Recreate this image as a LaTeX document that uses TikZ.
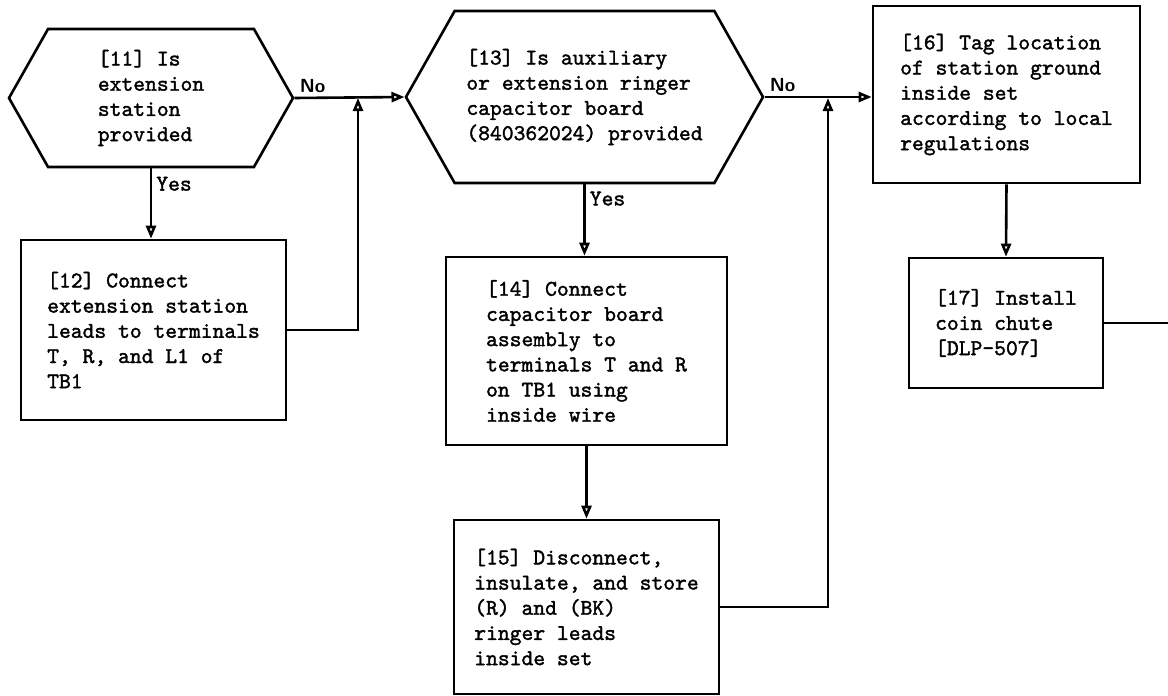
\documentclass[tikz,border=0pt]{standalone}
\usepackage{fontspec}
\newfontfamily\flowfont{lmmono10-regular.otf}[FakeBold=1.6]
\usetikzlibrary{arrows.meta, shapes.symbols}

\begin{document}
\begin{tikzpicture}[x=1pt, y=-1pt, >={Triangle[open, length=13pt, width=10pt]},
    every node/.style={font=\flowfont\fontsize{22.5}{25.2}\selectfont},
    box/.style={draw, line width=2.6pt, align=left, inner sep=0pt},
    query/.style={draw, line width=2.6pt, align=left, inner sep=0pt, signal, signal to=west and east, signal pointer angle=121},
    line/.style={line width=2.6pt},
    answer/.style={inner sep=4pt}]
    \useasboundingbox (0,0) rectangle (1168,696);
    
    % Fragen
    \node[query, minimum width=284, minimum height=138] (q11) at (151,98) {[11] Is\\extension\\station\\provided};
    \node[query, minimum width=357, minimum height=172] (q13) at (584.5,97) {[13] Is auxiliary\\or extension ringer\\capacitor board\\(840362024) provided};
    
    % Schritte
    \node[box, minimum width=265, minimum height=180] (b12) at (153.5,330) {[12] Connect\\extension station\\leads to terminals\\T, R, and L1 of\\TB1};
    \node[box, minimum width=281, minimum height=188] (b14) at (586.5,351) {[14] Connect\\capacitor board\\assembly to\\terminals T and R\\on TB1 using\\inside wire};
    \node[box, minimum width=265, minimum height=174] (b15) at (586.5,607) {[15] Disconnect,\\insulate, and store\\(R) and (BK)\\ringer leads\\inside set};
    \node[box, minimum width=267, minimum height=177] (b16) at (1006.5,94.5) {[16] Tag location\\of station ground\\inside set\\according to local\\regulations};
    \node[box, minimum width=194, minimum height=130] (b17) at (1006,323) {[17] Install\\coin chute\\{[DLP-507]}};
    
    % Knoten der Rueckfuehrungen
    \coordinate (j12) at (358,98);
    \coordinate (j15) at (828,98);
    \coordinate (out17) at (1168,323);
    
    % Verbindungen
    \draw[line, ->] (q11.south) -- node[pos=0.22, right, answer] (yes11) {Yes} (q11.south |- b12.north);
    \draw[line, ->] (q11.east) -- node[pos=0, above right, answer, font=\sffamily\bfseries\fontsize{19}{22}\selectfont] (no11) {No} (q13.west);
    \draw[line, ->] (b12.east) -| (j12);
    \draw[line, ->] (q13.south) -- node[pos=0.2, right, answer] (yes13) {Yes} (q13.south |- b14.north);
    \draw[line, ->] (b14.south) -- (b15.north);
    \draw[line, ->] (q13.east) -- node[pos=0, above right, answer, font=\sffamily\bfseries\fontsize{19}{22}\selectfont] (no13) {No} (q13.east -| b16.west);
    \draw[line, ->] (b15.east) -| (j15);
    \draw[line, ->] (b16.south) -- (b17.north);
    \draw[line] (b17.east) -- (out17);
\end{tikzpicture}
\end{document}
